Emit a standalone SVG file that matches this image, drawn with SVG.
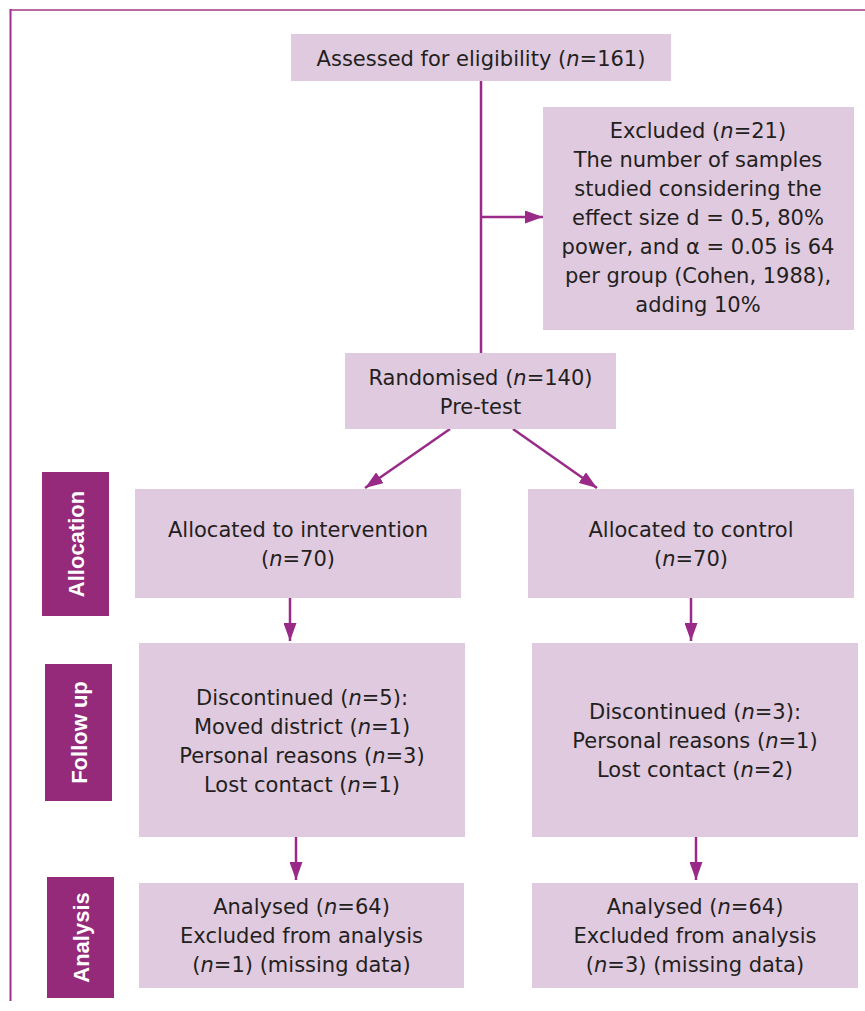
<svg xmlns="http://www.w3.org/2000/svg" width="865" height="1011" viewBox="0 0 865 1011">
<style>
.box{fill:#e0cadf}
.side{fill:#952a7b}
.t{font-family:"DejaVu Sans",sans-serif;font-size:21px;fill:#231f20;text-anchor:middle}
.s{font-family:"Liberation Sans",Arial,sans-serif;font-size:22px;font-weight:bold;fill:#ffffff;text-anchor:middle}
.i{font-style:italic}
.c{stroke:#9a2a88;stroke-width:2.5;fill:none}
</style>
<defs>
<marker id="ah" markerUnits="userSpaceOnUse" markerWidth="18" markerHeight="13" refX="18" refY="6.5" orient="auto">
<path d="M0,0 L18,6.5 L0,13 z" fill="#9a2a88"/>
</marker>
</defs>
<rect width="865" height="1011" fill="#ffffff"/>
<g id="frame">
<line x1="10" y1="10" x2="865" y2="10" stroke="#b86ba8" stroke-width="2"/>
<line x1="10.5" y1="9" x2="10.5" y2="1001" stroke="#a0308f" stroke-width="2"/>
</g>
<g id="connectors">
<line class="c" x1="481" y1="81" x2="481" y2="353"/>
<line class="c" x1="481" y1="217" x2="543" y2="217" marker-end="url(#ah)"/>
<line class="c" x1="450" y1="429" x2="365" y2="488" marker-end="url(#ah)"/>
<line class="c" x1="513" y1="429" x2="597" y2="488" marker-end="url(#ah)"/>
<line class="c" x1="290" y1="598" x2="290" y2="641" marker-end="url(#ah)"/>
<line class="c" x1="691" y1="598" x2="691" y2="641" marker-end="url(#ah)"/>
<line class="c" x1="296" y1="837" x2="296" y2="880" marker-end="url(#ah)"/>
<line class="c" x1="696" y1="837" x2="696" y2="880" marker-end="url(#ah)"/>
</g>
<g id="assessed">
<rect class="box" x="291" y="34" width="380" height="47"/>
<text class="t" x="481" y="66">Assessed for eligibility (<tspan class="i">n</tspan>=161)</text>
</g>
<g id="excluded">
<rect class="box" x="543" y="107" width="311" height="223"/>
<text class="t" x="698" y="138">Excluded (<tspan class="i">n</tspan>=21)</text>
<text class="t" x="698" y="167">The number of samples</text>
<text class="t" x="698" y="196">studied considering the</text>
<text class="t" x="698" y="225">effect size d = 0.5, 80%</text>
<text class="t" x="698" y="254">power, and α = 0.05 is 64</text>
<text class="t" x="698" y="283">per group (Cohen, 1988),</text>
<text class="t" x="698" y="312">adding 10%</text>
</g>
<g id="randomised">
<rect class="box" x="345" y="353" width="271" height="76"/>
<text class="t" x="480.5" y="385">Randomised (<tspan class="i">n</tspan>=140)</text>
<text class="t" x="480.5" y="414">Pre-test</text>
</g>
<g id="label-allocation">
<rect class="side" x="42" y="472" width="67" height="144"/>
<text class="s" transform="translate(83.5,544) rotate(-90)">Allocation</text>
</g>
<g id="label-followup">
<rect class="side" x="45" y="664" width="67" height="137"/>
<text class="s" transform="translate(86.5,732.5) rotate(-90)">Follow up</text>
</g>
<g id="label-analysis">
<rect class="side" x="47" y="877" width="67" height="121"/>
<text class="s" transform="translate(88.5,937.5) rotate(-90)">Analysis</text>
</g>
<g id="alloc-intervention">
<rect class="box" x="135" y="489" width="326" height="109"/>
<text class="t" x="298" y="537">Allocated to intervention</text>
<text class="t" x="298" y="566">(<tspan class="i">n</tspan>=70)</text>
</g>
<g id="alloc-control">
<rect class="box" x="528" y="489" width="326" height="109"/>
<text class="t" x="691" y="537">Allocated to control</text>
<text class="t" x="691" y="566">(<tspan class="i">n</tspan>=70)</text>
</g>
<g id="followup-intervention">
<rect class="box" x="139" y="643" width="326" height="194"/>
<text class="t" x="302" y="705">Discontinued (<tspan class="i">n</tspan>=5):</text>
<text class="t" x="302" y="734">Moved district (<tspan class="i">n</tspan>=1)</text>
<text class="t" x="302" y="763">Personal reasons (<tspan class="i">n</tspan>=3)</text>
<text class="t" x="302" y="792">Lost contact (<tspan class="i">n</tspan>=1)</text>
</g>
<g id="followup-control">
<rect class="box" x="532" y="643" width="326" height="194"/>
<text class="t" x="695" y="719">Discontinued (<tspan class="i">n</tspan>=3):</text>
<text class="t" x="695" y="748">Personal reasons (<tspan class="i">n</tspan>=1)</text>
<text class="t" x="695" y="777">Lost contact (<tspan class="i">n</tspan>=2)</text>
</g>
<g id="analysis-intervention">
<rect class="box" x="139" y="883" width="325" height="105"/>
<text class="t" x="301.5" y="914">Analysed (<tspan class="i">n</tspan>=64)</text>
<text class="t" x="301.5" y="943">Excluded from analysis</text>
<text class="t" x="301.5" y="972">(<tspan class="i">n</tspan>=1) (missing data)</text>
</g>
<g id="analysis-control">
<rect class="box" x="532" y="883" width="326" height="105"/>
<text class="t" x="695" y="914">Analysed (<tspan class="i">n</tspan>=64)</text>
<text class="t" x="695" y="943">Excluded from analysis</text>
<text class="t" x="695" y="972">(<tspan class="i">n</tspan>=3) (missing data)</text>
</g>
</svg>
